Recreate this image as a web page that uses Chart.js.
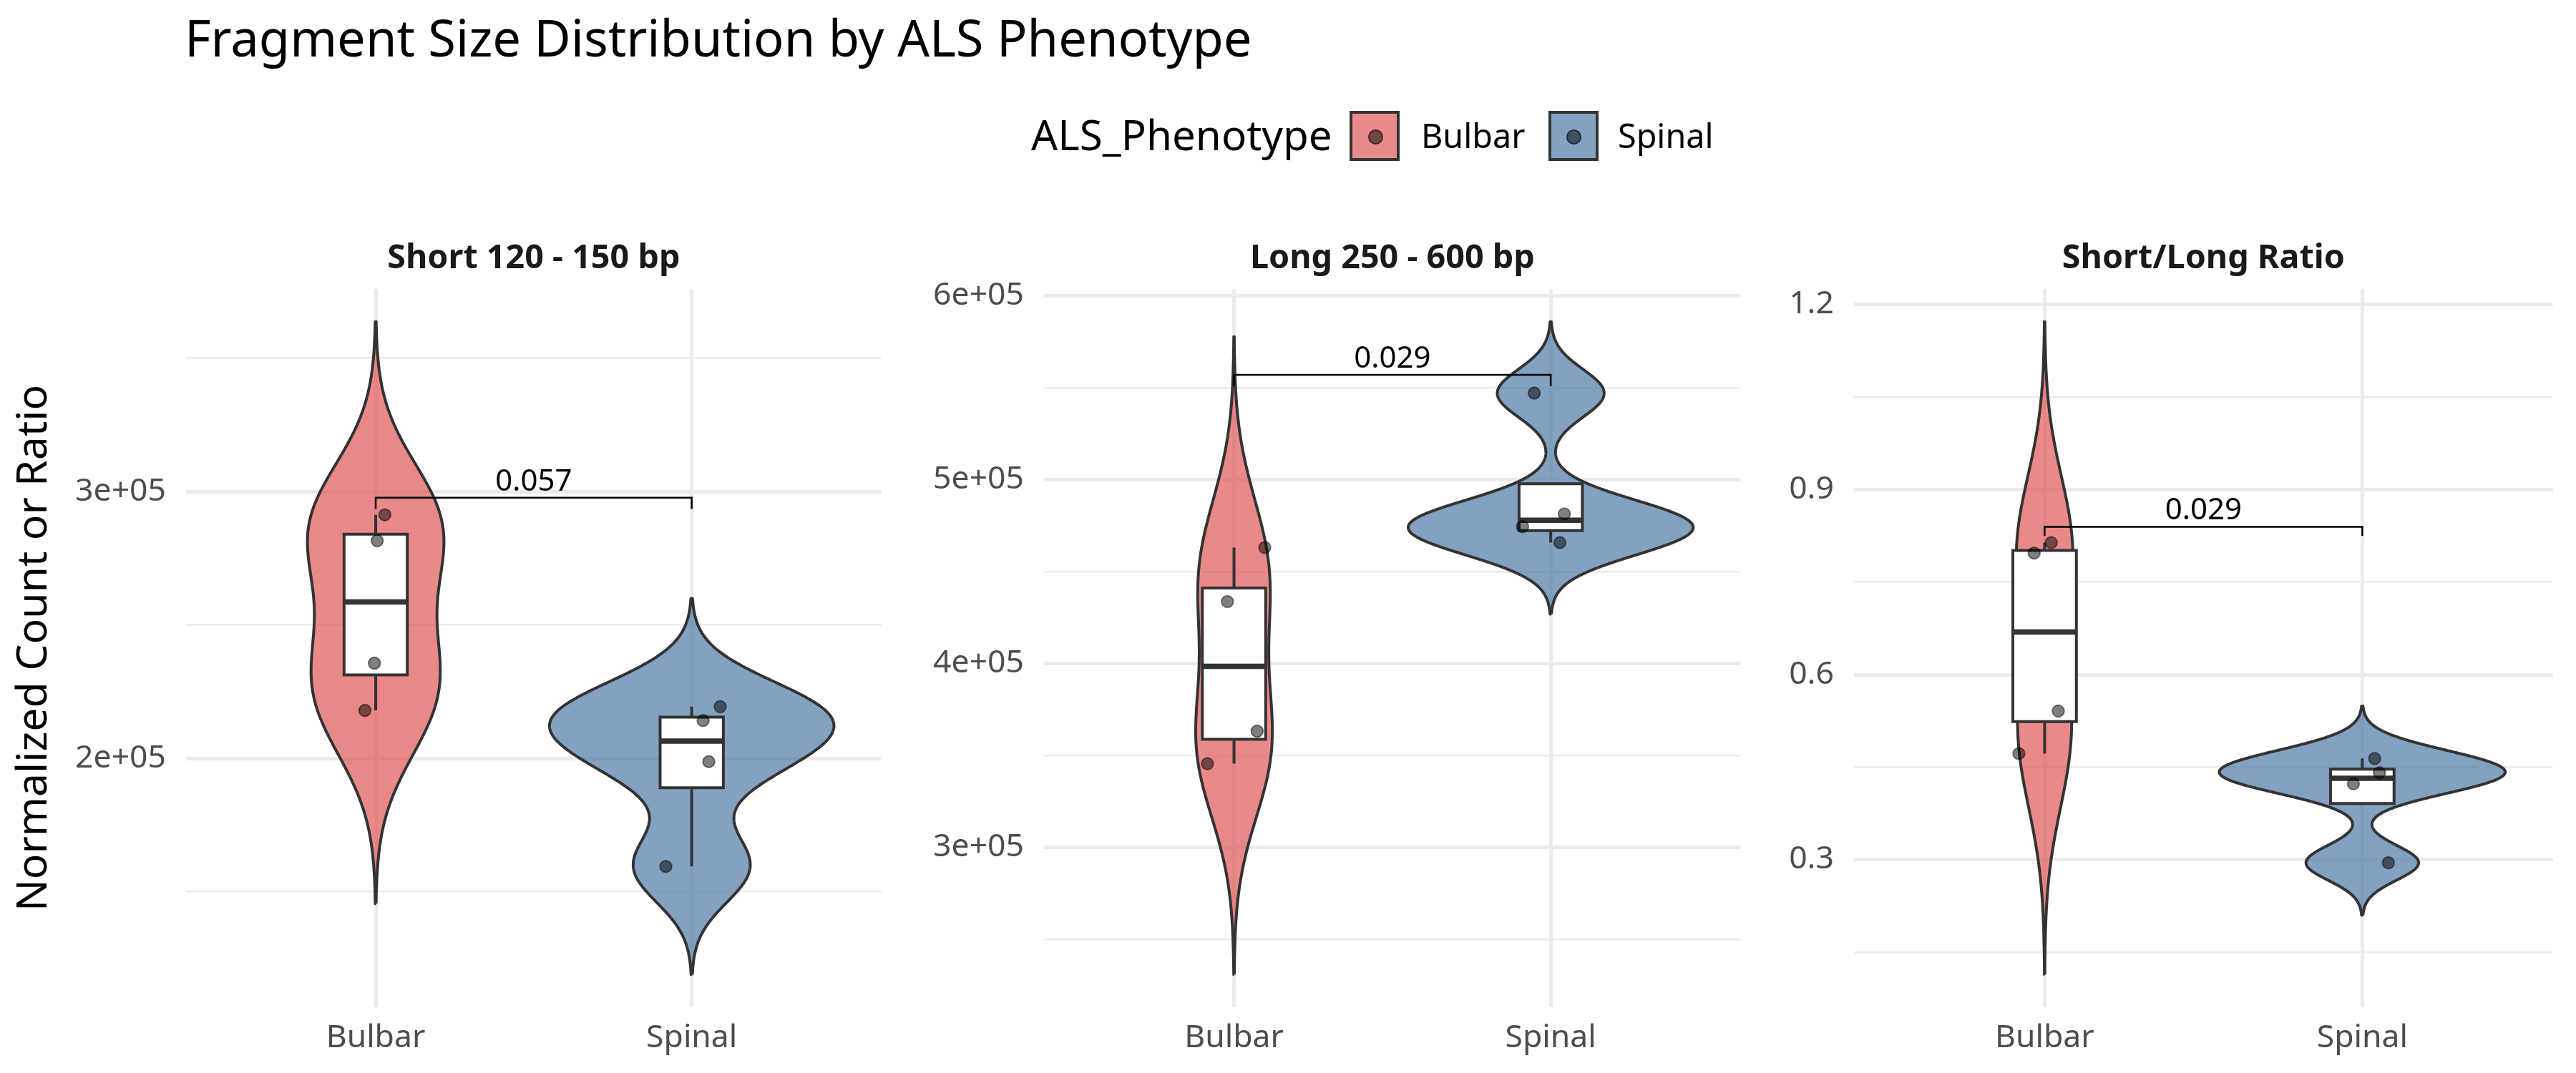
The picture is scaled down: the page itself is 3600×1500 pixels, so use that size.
<!DOCTYPE html>
<html>
<head>
<meta charset="utf-8">
<script src="https://cdn.jsdelivr.net/npm/chart.js@4.4.1/dist/chart.umd.min.js"></script>
<style>
  html, body { margin: 0; padding: 0; background: #ffffff; }
  #page { position: relative; width: 3600px; height: 1500px; overflow: hidden; font-family: 'Noto Sans', 'Open Sans', sans-serif; }
  canvas.cv { position: absolute; top: 0; }
  .txt { position: absolute; white-space: nowrap; z-index: 5; }
  #title { left: 258px; top: 17px; font-size: 70.5px; line-height: 70px; color: #000; }
  #lgTitle { left: 1441px; top: 159px; font-size: 58.3px; line-height: 58.3px; color: #000; }
  .lgText { font-size: 46.7px; line-height: 46.7px; top: 166px; color: #000; }
  .key { position: absolute; top: 155px; width: 70px; height: 70px; box-sizing: border-box; border: 4px solid #333333; z-index: 5; }
  .dot { position: absolute; left: 50%; top: 50%; width: 17px; height: 17px; margin: -9.5px 0 0 -9.5px; border-radius: 50%; background: rgba(0,0,0,0.5); border: 2px solid rgba(0,0,0,0.45); }
</style>
</head>
<body>
<div id="page">
  <canvas id="c0" class="cv" width="1242" height="1500" style="left:0px"></canvas>
  <canvas id="c1" class="cv" width="1184" height="1500" style="left:1259px"></canvas>
  <canvas id="c2" class="cv" width="1127" height="1500" style="left:2451px"></canvas>
  <div id="title" class="txt">Fragment Size Distribution by ALS Phenotype</div>
  <div id="lgTitle" class="txt">ALS_Phenotype</div>
  <div id="legend"></div>
</div>
<script>
// ---------------- DATA ----------------
const categories = ['Bulbar', 'Spinal'];
const panelTitles = ['Short 120 - 150 bp', 'Long 250 - 600 bp', 'Short/Long Ratio'];
const yAxisTitle = 'Normalized Count or Ratio';
const legendTitle = 'ALS_Phenotype';

// observed values (one per sample)
const shortBulbar = [291300, 281600, 235700, 218000];
const shortSpinal = [219400, 214200, 198800, 159500];
const longBulbar  = [463100, 433700, 363200, 345500];
const longSpinal  = [547100, 481400, 474500, 465800];
const ratioBulbar = [0.814, 0.797, 0.541, 0.472];
const ratioSpinal = [0.464, 0.441, 0.423, 0.295];

// horizontal jitter of each point (category units)
const jitterShortBulbar = [0.029, 0.005, -0.004, -0.034];
const jitterShortSpinal = [0.090, 0.036, 0.054, -0.082];
const jitterLongBulbar  = [0.097, -0.021, 0.073, -0.084];
const jitterLongSpinal  = [-0.052, 0.043, -0.089, 0.029];
const jitterRatioBulbar = [0.021, -0.033, 0.043, -0.081];
const jitterRatioSpinal = [0.039, 0.054, -0.028, 0.082];

// significance brackets
const pValues = ['0.057', '0.029', '0.029'];
const bracketY = [297700, 557100, 0.8396];
const bracketTipY = [293500, 551000, 0.825];

// tick values and labels
const shortMajorTicks = [200000, 300000];
const shortTickLabels = ['2e+05', '3e+05'];
const shortMinorTicks = [150000, 250000, 350000];
const longMajorTicks = [300000, 400000, 500000, 600000];
const longTickLabels = ['3e+05', '4e+05', '5e+05', '6e+05'];
const longMinorTicks = [250000, 350000, 450000, 550000];
const ratioMajorTicks = [0.3, 0.6, 0.9, 1.2];
const ratioTickLabels = ['0.3', '0.6', '0.9', '1.2'];
const ratioMinorTicks = [0.15, 0.45, 0.75, 1.05];

// ---------------- STYLE / LAYOUT ----------------
const fillColors = ['rgba(225,87,89,0.7)', 'rgba(78,121,167,0.7)'];
const outline = '#333333';
const panelLayout = [
  { canvas: 'c0', yWidth: 260 },
  { canvas: 'c1', yWidth: 200 },
  { canvas: 'c2', yWidth: 140 }
];
const panels = [
  { groups: [shortBulbar, shortSpinal], jitter: [jitterShortBulbar, jitterShortSpinal], major: shortMajorTicks, labels: shortTickLabels, minor: shortMinorTicks },
  { groups: [longBulbar, longSpinal], jitter: [jitterLongBulbar, jitterLongSpinal], major: longMajorTicks, labels: longTickLabels, minor: longMinorTicks },
  { groups: [ratioBulbar, ratioSpinal], jitter: [jitterRatioBulbar, jitterRatioSpinal], major: ratioMajorTicks, labels: ratioTickLabels, minor: ratioMinorTicks }
];

// ---------------- STATISTICS (ggplot-like) ----------------
function quantile7(sorted, p) {
  const h = (sorted.length - 1) * p;
  const lo = Math.floor(h), hi = Math.ceil(h);
  return sorted[lo] + (h - lo) * (sorted[hi] - sorted[lo]);
}
function boxStats(v) {
  const s = [...v].sort((a, b) => a - b);
  const q1 = quantile7(s, 0.25), med = quantile7(s, 0.5), q3 = quantile7(s, 0.75);
  const iqr = q3 - q1;
  const upper = Math.max(...s.filter(x => x <= q3 + 1.5 * iqr));
  const lower = Math.min(...s.filter(x => x >= q1 - 1.5 * iqr));
  return { q1, med, q3, upper, lower, iqr };
}
function bwNrd0(v) {
  const n = v.length;
  const mean = v.reduce((a, b) => a + b, 0) / n;
  const sd = Math.sqrt(v.reduce((a, b) => a + (b - mean) * (b - mean), 0) / (n - 1));
  const st = boxStats(v);
  const lo = Math.min(sd, st.iqr / 1.34);
  return 0.9 * lo * Math.pow(n, -0.2);
}
function kde(v) {
  const bw = bwNrd0(v);
  const from = Math.min(...v) - 3 * bw, to = Math.max(...v) + 3 * bw;
  const N = 512, ys = [], ds = [];
  for (let k = 0; k < N; k++) {
    const y = from + (to - from) * k / (N - 1);
    let d = 0;
    for (const xi of v) { const u = (y - xi) / bw; d += Math.exp(-0.5 * u * u); }
    d /= (v.length * bw * Math.sqrt(2 * Math.PI));
    ys.push(y); ds.push(d);
  }
  return { ys, ds, from, to };
}

// ---------------- PLUGIN for texts ----------------
const annotPlugin = {
  id: 'annot',
  afterDatasetsDraw(chart, args, opts) {
    const i = opts.index;
    const { ctx, chartArea } = chart;
    const x = chart.scales.x, y = chart.scales.y;
    ctx.save();
    ctx.fillStyle = '#000000';
    ctx.font = '42px "Noto Sans"';
    ctx.textAlign = 'center';
    ctx.textBaseline = 'alphabetic';
    ctx.fillText(pValues[i], x.getPixelForValue(1.5), y.getPixelForValue(bracketY[i]) - 10);
    ctx.fillStyle = '#1A1A1A';
    ctx.font = 'bold 46.7px "Noto Sans"';
    ctx.fillText(panelTitles[i], (chartArea.left + chartArea.right) / 2, 375);
    ctx.restore();
  }
};

function isIn(arr, v) { return arr.some(a => Math.abs(a - v) < 1e-9 * Math.max(1, Math.abs(a))); }

function buildPanel(i) {
  const P = panels[i];
  const L = panelLayout[i];
  const dens = P.groups.map(kde);
  const dmax = Math.max(...dens.map(d => Math.max(...d.ds)));
  const lo = Math.min(...dens.map(d => d.from));
  const hi = Math.max(...dens.map(d => d.to));
  const pad = 0.05 * (hi - lo);
  const datasets = [];

  P.groups.forEach((g, gi) => {
    const c = gi + 1;
    const d = dens[gi];
    // violin outline
    const pts = [];
    for (let k = 0; k < d.ys.length; k++) pts.push({ x: c + 0.45 * d.ds[k] / dmax, y: d.ys[k] });
    for (let k = d.ys.length - 1; k >= 0; k--) pts.push({ x: c - 0.45 * d.ds[k] / dmax, y: d.ys[k] });
    pts.push({ x: pts[0].x, y: pts[0].y });
    datasets.push({ label: categories[gi] + ' violin', data: pts, showLine: true, fill: 'shape',
      backgroundColor: fillColors[gi], borderColor: outline, borderWidth: 4, borderJoinStyle: 'round',
      pointRadius: 0, tension: 0.001, order: 10 });

    const st = boxStats(g);
    // whiskers
    datasets.push({ label: 'uw', data: [{ x: c, y: st.q3 }, { x: c, y: st.upper }], showLine: true, fill: false,
      borderColor: outline, borderWidth: 4, pointRadius: 0, order: 9 });
    datasets.push({ label: 'lw', data: [{ x: c, y: st.q1 }, { x: c, y: st.lower }], showLine: true, fill: false,
      borderColor: outline, borderWidth: 4, pointRadius: 0, order: 9 });
    // box
    const bw = 0.1;
    datasets.push({ label: 'box', data: [{ x: c, y: st.q1 }, { x: c + bw, y: st.q1 }, { x: c + bw, y: st.q3 }, { x: c - bw, y: st.q3 }, { x: c - bw, y: st.q1 }, { x: c, y: st.q1 }],
      showLine: true, fill: 'shape', backgroundColor: '#ffffff', borderColor: outline, borderWidth: 4, borderJoinStyle: 'miter', pointRadius: 0, order: 8 });
    // median
    datasets.push({ label: 'median', data: [{ x: c - bw, y: st.med }, { x: c + bw, y: st.med }], showLine: true, fill: false,
      borderColor: outline, borderWidth: 7.5, pointRadius: 0, order: 7 });
    // points
    datasets.push({ label: categories[gi], data: g.map((v, k) => ({ x: c + P.jitter[gi][k], y: v })), showLine: false,
      pointRadius: 8.3, pointBorderWidth: 2, pointBackgroundColor: 'rgba(0,0,0,0.5)', pointBorderColor: 'rgba(0,0,0,0.45)', order: 3 });
  });
  // bracket
  datasets.push({ label: 'bracket', data: [{ x: 1, y: bracketTipY[i] }, { x: 1, y: bracketY[i] }, { x: 2, y: bracketY[i] }, { x: 2, y: bracketTipY[i] }],
    showLine: true, fill: false, borderColor: '#000000', borderWidth: 2.5, pointRadius: 0, order: 2 });

  const allTicks = [...P.major, ...P.minor].sort((a, b) => a - b);

  return new Chart(document.getElementById(L.canvas), {
    type: 'scatter',
    data: { datasets },
    plugins: [annotPlugin],
    options: {
      responsive: false,
      maintainAspectRatio: false,
      devicePixelRatio: 1,
      animation: false,
      events: [],
      layout: { padding: { top: 404, bottom: 0, left: 0, right: 0 } },
      plugins: { legend: { display: false }, tooltip: { enabled: false }, annot: { index: i } },
      scales: {
        x: {
          type: 'linear', min: 0.4, max: 2.6, bounds: 'data',
          afterBuildTicks: s => { s.ticks = [1, 2].map(v => ({ value: v })); },
          afterFit: s => { s.height = 92; },
          ticks: { autoSkip: false, maxRotation: 0, padding: 17, color: '#4D4D4D', font: { family: 'Noto Sans', size: 44.5 },
            callback: v => categories[Math.round(v) - 1] },
          grid: { color: '#EBEBEB', lineWidth: 5, drawTicks: false },
          border: { display: false }
        },
        y: {
          type: 'linear', min: lo - pad, max: hi + pad, bounds: 'data',
          afterBuildTicks: s => { s.ticks = allTicks.map(v => ({ value: v })); },
          afterFit: s => { s.width = L.yWidth; },
          ticks: { autoSkip: false, padding: 28, color: '#4D4D4D', font: { family: 'Noto Sans', size: 44.5 },
            callback: v => { const k = P.major.findIndex(m => Math.abs(m - v) < 1e-9 * Math.max(1, Math.abs(m))); return k >= 0 ? P.labels[k] : ''; } },
          grid: { color: '#EBEBEB', lineWidth: c => (c.tick && isIn(P.major, c.tick.value)) ? 5 : 2.5, drawTicks: false },
          border: { display: false },
          title: { display: i === 0, text: yAxisTitle, color: '#000000', font: { family: 'Noto Sans', size: 59, lineHeight: 1.2 }, padding: { top: 13, bottom: 0 } }
        }
      }
    }
  });
}

// ---------------- LEGEND (HTML) ----------------
(function buildLegend() {
  document.getElementById('lgTitle').textContent = legendTitle;
  const page = document.getElementById('page');
  const keyLefts = [1886, 2163.5];
  const textLefts = [1986, 2261];
  categories.forEach((c, k) => {
    const key = document.createElement('div');
    key.className = 'key';
    key.style.left = keyLefts[k] + 'px';
    key.style.background = fillColors[k];
    const dot = document.createElement('span');
    dot.className = 'dot';
    key.appendChild(dot);
    page.appendChild(key);
    const t = document.createElement('div');
    t.className = 'txt lgText';
    t.style.left = textLefts[k] + 'px';
    t.textContent = c;
    page.appendChild(t);
  });
})();

panels.forEach((p, i) => buildPanel(i));
</script>
</body>
</html>
